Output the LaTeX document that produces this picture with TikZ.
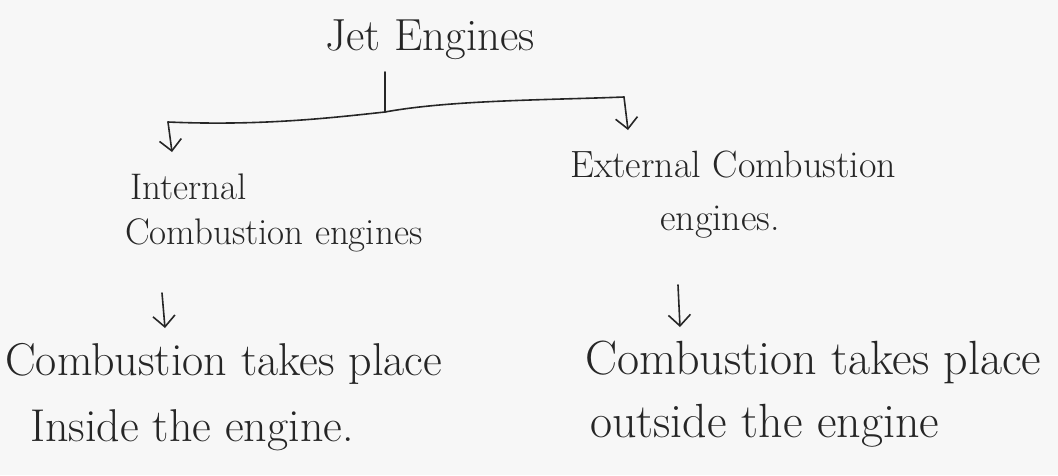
\documentclass[tikz,border=0pt]{standalone}
\usetikzlibrary{arrows.meta}
\begin{document}
\begin{tikzpicture}[x=1pt,y=-1pt,
  ink/.style={draw=black!85,line width=1.6pt,line cap=round},
  arr/.style={ink,-{Straight Barb[length=11pt,width=22pt,line width=1.6pt]}},
  txt/.style={text=black!85,inner sep=0pt,anchor=west}]
\fill[black!3] (0,0) rectangle (1058,475);
\useasboundingbox (0,0) rectangle (1058,475);
\node[text=black!85,inner sep=2pt] (title) at (430,40) {\fontsize{45}{48}\selectfont Jet Engines};
\node[txt] (int1) at (130,187) {\fontsize{37}{40}\selectfont Internal};
\node[txt] (int2) at (125,235) {\fontsize{37}{40}\selectfont Combustion engines};
\node[txt] (ext1) at (570,165) {\fontsize{38}{40}\selectfont External Combustion};
\node[txt] (ext2) at (660,222) {\fontsize{38}{40}\selectfont engines.};
\node[txt] (l1) at (5,364) {\fontsize{46}{48}\selectfont Combustion takes place};
\node[txt] (l2) at (30,430) {\fontsize{46}{48}\selectfont Inside the engine.};
\node[txt] (r1) at (585,362) {\fontsize{48}{50}\selectfont Combustion takes place};
\node[txt] (r2) at (590,426) {\fontsize{48}{50}\selectfont outside the engine};
\coordinate (j) at (385,112);
\coordinate (lc) at (168,122);
\coordinate (rc) at (624,97);
\coordinate (lt) at (172,152);
\coordinate (rt) at (628,130);
\draw[ink] (385,72) -- (j);
\draw[ink] (lc) .. controls (260,126) and (330,118) .. (j) .. controls (450,100) and (550,100) .. (rc);
\draw[arr] (lc) -- (lt);
\draw[arr] (rc) -- (rt);
\coordinate (m1a) at (162,293);
\coordinate (m1b) at (165,328);
\coordinate (m2a) at (678,285);
\coordinate (m2b) at (680,327);
\draw[arr] (m1a) -- (m1b);
\draw[arr] (m2a) -- (m2b);
\end{tikzpicture}
\end{document}
